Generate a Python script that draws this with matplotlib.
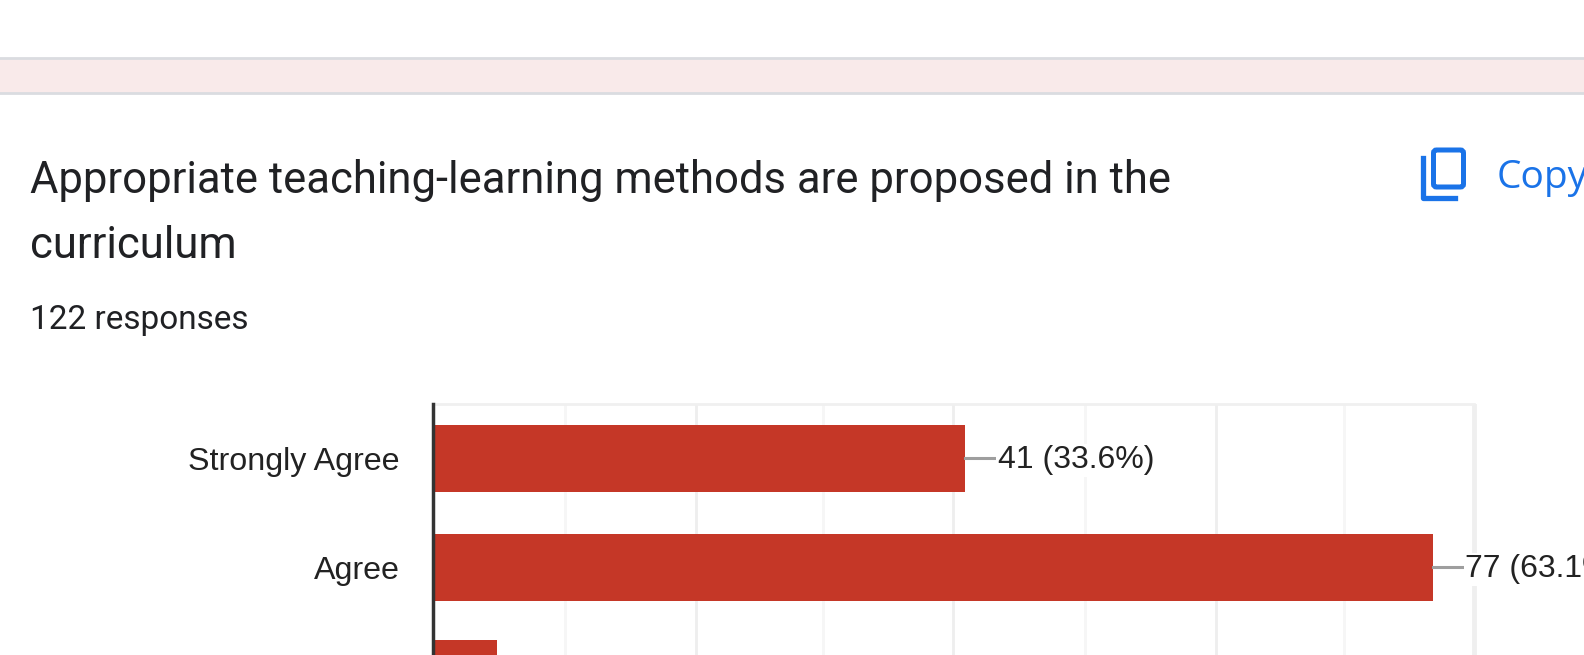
import matplotlib
matplotlib.use('Agg')
import matplotlib.pyplot as plt
from matplotlib.patches import FancyBboxPatch, Rectangle

# categories and counts (third label is below the crop)
categories = ['Strongly Agree', 'Agree', '']
counts = [41, 77, 5]
value_labels = ['41 (33.6%)', '77 (63.1%)', '']
# gridlines, every other one is darker
grid_values = [10.2, 20.3, 30.1, 40.1, 50.2, 60.3, 70.2, 80.2]

title_lines = ['Appropriate teaching-learning methods are proposed in the', 'curriculum']
responses = '122 responses'

W, H = 1584, 655
fig = plt.figure(figsize=(W / 100, H / 100), dpi=100, facecolor='white')

# page layer in pixel coords
page = fig.add_axes([0, 0, 1, 1])
page.set_xlim(0, W)
page.set_ylim(H, 0)
page.axis('off')

page.add_patch(Rectangle((0, 58), W, 35, facecolor='#f9eaea', edgecolor='none'))
page.axhline(58, color='#dadce0', lw=2)
page.axhline(92.5, color='#dadce0', lw=2)

page.text(30, 181, title_lines[0], fontsize=31.4, family='Roboto', color='#202124', va='center')
page.text(30, 246, title_lines[1], fontsize=31.4, family='Roboto', color='#202124', va='center')
page.text(30, 320, responses, fontsize=24, family='Roboto', color='#202124', va='center')

# copy icon
blue = '#1a73e8'
page.add_patch(FancyBboxPatch((1433.5, 150), 30, 37, boxstyle='round,pad=0,rounding_size=3',
                              fill=False, edgecolor=blue, lw=3.6))
page.plot([1423, 1423, 1455], [158, 198, 198], color=blue, lw=3.8, solid_joinstyle='round')
page.text(1497, 178, 'Copy', fontsize=28, family='Open Sans', color=blue, va='center')

# chart layer, five rows of 109 px, running past the bottom edge
left, top = 432.5, 403.7
px_per_unit = 12.99
row_h = 109
x_max = 80.5
ax_w = x_max * px_per_unit
ax_h = 5 * row_h
ax = fig.add_axes([left / W, (H - top - ax_h) / H, ax_w / W, ax_h / H])
ax.patch.set_alpha(0)
ax.set_xlim(0, x_max)
ax.set_ylim(4.5, -0.5)

# third bar sits a little higher than the even spacing in the source
bar_rows = [0, 1, 1.973]
ax.barh(bar_rows, counts, height=0.612, color='#c53727', zorder=3)

for i, v in enumerate(grid_values):
    ax.axvline(v, color='#eeeeee' if i % 2 == 1 else '#f6f6f6', lw=2, zorder=1)
ax.axvline(grid_values[-1], color='#efefef', lw=3.5, zorder=1)

for i, (c, lab) in enumerate(zip(counts, value_labels)):
    if not lab:
        continue
    ax.plot([c, c + 2.4], [i, i], color='#9e9e9e', lw=2.2, zorder=4)
    ax.annotate(lab, (c + 2.4, i), xytext=(1, -1.5), textcoords='offset points', fontsize=23,
                family='Liberation Sans', color='#222222', va='center', zorder=5,
                bbox=dict(facecolor='white', edgecolor='none', pad=1))

ax.set_yticks(range(len(categories)))
ax.set_yticklabels(categories, fontsize=23.2, family='Liberation Sans', color='#222222')
ax.tick_params(axis='y', length=0, pad=23.5)
ax.set_xticks([])
for s in ['right', 'bottom']:
    ax.spines[s].set_visible(False)
ax.spines['top'].set_color('#f0f0f0')
ax.spines['top'].set_linewidth(2)
ax.spines['top'].set_bounds(0, grid_values[-1])
ax.spines['left'].set_color('#333333')
ax.spines['left'].set_linewidth(2.5)
ax.spines['left'].set_zorder(6)

fig.savefig('out.png', dpi=100)
